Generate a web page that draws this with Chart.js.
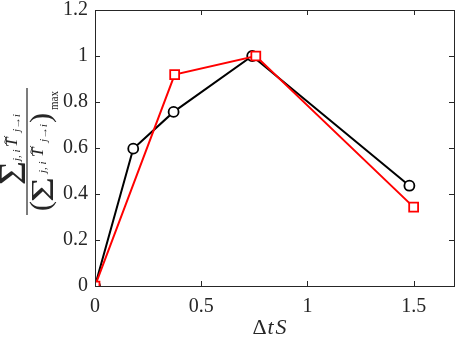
<!DOCTYPE html>
<html>
<head>
<meta charset="utf-8">
<script src="https://cdn.jsdelivr.net/npm/chart.js@4/dist/chart.umd.min.js"></script>
<style>
  html, body { margin: 0; padding: 0; background: #fff; }
  #wrap { width: 457px; height: 337px; }
</style>
</head>
<body>
<div id="wrap"><canvas id="c"></canvas></div>
<script>
// tick values
const xTicks = [0, 0.5, 1, 1.5];
const yTicks = [0, 0.2, 0.4, 0.6, 0.8, 1, 1.2];

// black circles
const blackX = [0, 0.18, 0.37, 0.74, 1.48];
const blackY = [0, 0.597, 0.757, 1.0, 0.436];

// red squares
const redX = [0, 0.375, 0.757, 1.5];
const redY = [0, 0.919, 1.0, 0.343];

const SERIF = "'Liberation Serif', serif";
const AXIS = '#262626';
Chart.defaults.font.family = SERIF;

const toPts = (xs, ys) => xs.map((x, i) => ({ x: x, y: ys[i] }));

// one glyph run at (x, y), optionally squeezed/stretched to width w
function put(ctx, t, font, x, y, w) {
    ctx.font = font;
    if (w) {
        const m = ctx.measureText(t).width;
        ctx.save();
        ctx.translate(x, y);
        ctx.scale(w / m, 1);
        ctx.fillText(t, 0, 0);
        ctx.restore();
    } else {
        ctx.fillText(t, x, y);
    }
}

function tilde(ctx, x, y, w) {
    ctx.beginPath();
    ctx.moveTo(x, y + 1);
    ctx.bezierCurveTo(x + w * 0.3, y - 2.5, x + w * 0.7, y + 3.5, x + w, y - 1);
    ctx.stroke();
}

const frame = {
    id: 'frame',
    afterDraw(chart) {
        const { ctx, chartArea: a, scales } = chart;
        ctx.save();
        ctx.strokeStyle = AXIS;
        ctx.lineWidth = 1;
        ctx.strokeRect(Math.round(a.left) + 0.5, Math.round(a.top) + 0.5,
            Math.round(a.right - a.left), Math.round(a.bottom - a.top));
        ctx.beginPath();
        xTicks.forEach(v => {
            const px = Math.round(scales.x.getPixelForValue(v)) + 0.5;
            ctx.moveTo(px, a.bottom); ctx.lineTo(px, a.bottom - 5);
            ctx.moveTo(px, a.top); ctx.lineTo(px, a.top + 5);
        });
        yTicks.forEach(v => {
            const py = Math.round(scales.y.getPixelForValue(v)) + 0.5;
            ctx.moveTo(a.left, py); ctx.lineTo(a.left + 5, py);
            ctx.moveTo(a.right, py); ctx.lineTo(a.right - 5, py);
        });
        ctx.stroke();

        // x title: ΔtS
        ctx.fillStyle = AXIS;
        ctx.textBaseline = 'alphabetic';
        const cx = (a.left + a.right) / 2;
        put(ctx, 'Δ', '22px ' + SERIF, cx - 22, 334);
        put(ctx, 't', 'italic 22px ' + SERIF, cx - 7, 334);
        put(ctx, 'S', 'italic 22px ' + SERIF, cx + 1, 334);

        // y title: fraction, rotated
        ctx.translate(27, 151);
        ctx.rotate(-Math.PI / 2);
        ctx.fillRect(-64, -0.6, 127, 1.2);
        ctx.strokeStyle = AXIS;
        ctx.lineWidth = 0.9;
        const sub = 'italic 11px ' + SERIF;
        const subA = 'italic 10px ' + SERIF;
        const tv = 'italic 17px ' + SERIF;
        // numerator
        put(ctx, 'Σ', '38px ' + SERIF, -34, -2, 24);
        put(ctx, 'j, i', sub, -10, -7);
        put(ctx, 'T', tv, 4, -10);
        tilde(ctx, 7, -22, 8);
        put(ctx, 'j→i', subA, 19, -7, 18);
        // denominator
        put(ctx, '(', '30px ' + SERIF, -60, 23);
        put(ctx, 'Σ', '32px ' + SERIF, -51, 26, 25);
        put(ctx, 'j, i', sub, -22, 19);
        put(ctx, 'T', tv, -6, 16);
        tilde(ctx, -3, 4, 8);
        put(ctx, 'j→i', subA, 9, 20, 18);
        put(ctx, ')', '30px ' + SERIF, 28, 23);
        put(ctx, 'max', '12px ' + SERIF, 41, 31, 19);
        ctx.restore();
    }
};

new Chart(document.getElementById('c'), {
    type: 'line',
    data: {
        datasets: [
            {
                label: 'red',
                data: toPts(redX, redY),
                borderColor: '#ff0000',
                backgroundColor: '#ffffff',
                borderWidth: 2,
                pointStyle: 'rect',
                pointRadius: 6.3,
                pointBorderWidth: 1.8,
                pointBackgroundColor: '#ffffff',
                tension: 0
            },
            {
                label: 'black',
                data: toPts(blackX, blackY),
                borderColor: '#000000',
                backgroundColor: '#ffffff',
                borderWidth: 2,
                pointStyle: 'circle',
                pointRadius: 5,
                pointBorderWidth: 1.8,
                pointBackgroundColor: '#ffffff',
                tension: 0
            }
        ]
    },
    options: {
        responsive: true,
        maintainAspectRatio: false,
        animation: false,
        layout: { autoPadding: false, padding: { left: 0, right: 3, top: 10, bottom: 0 } },
        plugins: {
            legend: { display: false },
            tooltip: { enabled: false }
        },
        scales: {
            x: {
                type: 'linear',
                min: 0,
                max: 1.69,
                afterBuildTicks: s => { s.ticks = xTicks.map(v => ({ value: v })); },
                afterFit: s => {
                    s.height = 51;
                    s.paddingLeft = 0; s.paddingRight = 0;
                },
                grid: { display: false, drawTicks: false },
                border: { display: false },
                ticks: {
                    padding: 9,
                    color: AXIS,
                    maxRotation: 0,
                    font: { family: SERIF, size: 20 },
                    callback: v => String(v)
                }
            },
            y: {
                type: 'linear',
                min: 0,
                max: 1.2,
                afterBuildTicks: s => { s.ticks = yTicks.map(v => ({ value: v })); },
                afterFit: s => {
                    s.width = 95;
                    s.paddingTop = 0; s.paddingBottom = 0;
                },
                grid: { display: false, drawTicks: false },
                border: { display: false },
                ticks: {
                    padding: 7,
                    color: AXIS,
                    font: { family: SERIF, size: 20 },
                    callback: v => String(v)
                }
            }
        }
    },
    plugins: [frame]
});
</script>
</body>
</html>
